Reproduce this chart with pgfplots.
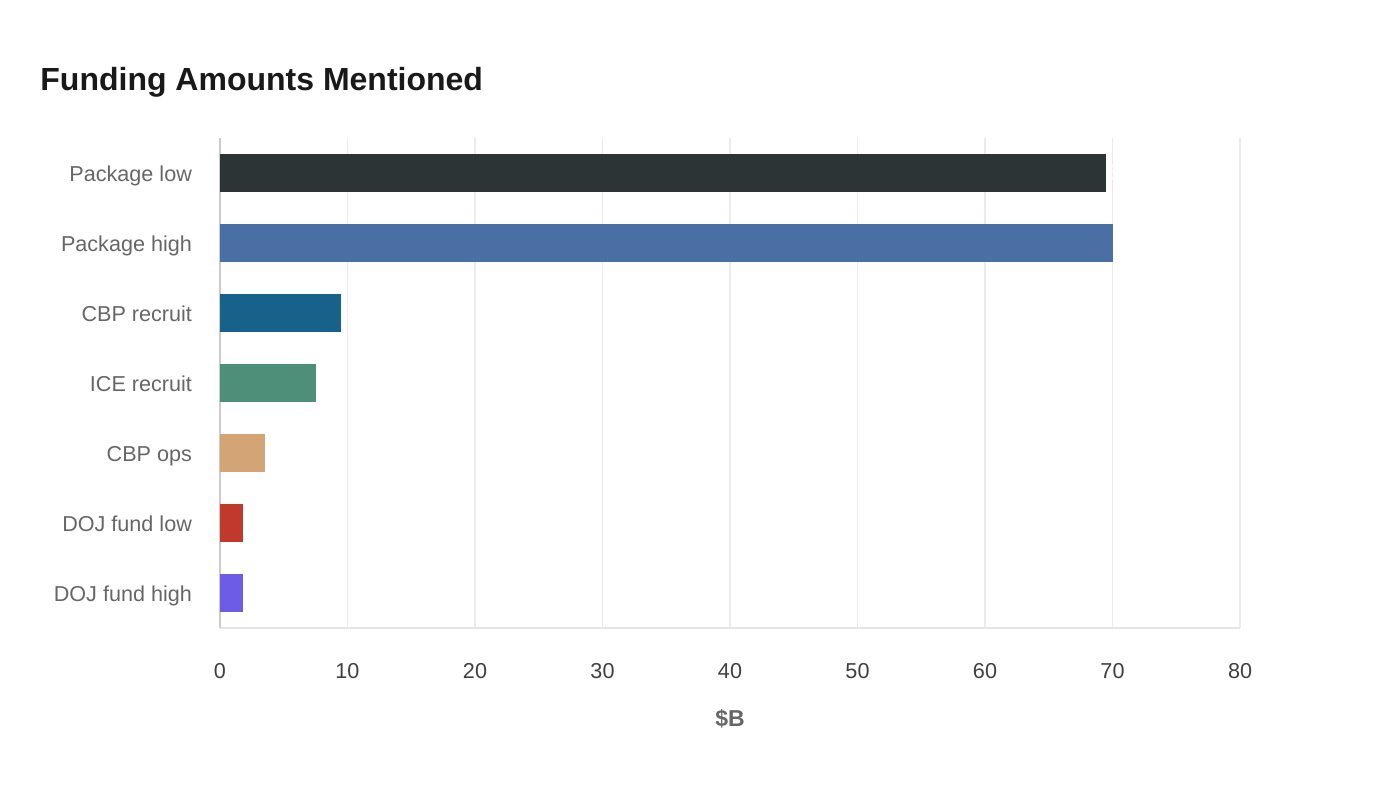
\documentclass[border=0pt]{standalone}
\usepackage{pgfplots}
\pgfplotsset{compat=1.18}
\usepackage{fontspec}
\setmainfont{Liberation Sans}
\definecolor{c1}{HTML}{2D3436}
\definecolor{c2}{HTML}{4A6FA5}
\definecolor{c3}{HTML}{17628A}
\definecolor{c4}{HTML}{4E8F7A}
\definecolor{c5}{HTML}{D4A574}
\definecolor{c6}{HTML}{C0392B}
\definecolor{c7}{HTML}{6C5CE7}
\definecolor{gridc}{HTML}{EBEBEB}
\definecolor{axc}{HTML}{CCCCCC}
\begin{document}
\begin{tikzpicture}
\begin{axis}[
  scale only axis,
  width=510pt, height=245pt,
  xbar, bar width=19pt, bar shift=0pt,
  xmin=0, xmax=80,
  ymin=-0.5, ymax=6.5,
  y dir=reverse,
  ytick={0,...,6},
  yticklabels={Package low,Package high,CBP recruit,ICE recruit,CBP ops,DOJ fund low,DOJ fund high},
  xtick={0,10,...,80},
  axis x line*=bottom, axis y line*=left,
  axis line style={axc, line width=0.8pt, -},
  x axis line style={draw=gridc!80!axc},
  major tick length=0pt,
  xmajorgrids, grid style={gridc, line width=0.7pt},
  /pgf/number format/assume math mode=true,
  tick label style={font=\fontsize{10.8}{13}\selectfont},
  xticklabel style={text=black!75, yshift=-14pt},
  yticklabel style={text=black!60, xshift=-10.5pt, anchor=east, text height=0.72em, text depth=0.2em, yshift=-1.5pt},
  xlabel={\textbf{\$B}},
  xlabel style={font=\fontsize{11.5}{13}\selectfont, text=black!60, yshift=-8.5pt},
  nodes near coords,
  nodes near coords style={white, font=\bfseries\fontsize{10}{12}\selectfont, anchor=west, xshift=-3pt},
  clip=false,
]
\addplot[fill=c1, draw=none] coordinates {(69.5,0)};
\addplot[fill=c2, draw=none] coordinates {(70,1)};
\addplot[fill=c3, draw=none] coordinates {(9.5,2)};
\addplot[fill=c4, draw=none] coordinates {(7.5,3)};
\addplot[fill=c5, draw=none] coordinates {(3.5,4)};
\addplot[fill=c6, draw=none] coordinates {(1.8,5)};
\addplot[fill=c7, draw=none] coordinates {(1.8,6)};
\end{axis}
\node[anchor=base west, inner sep=0pt, font=\bfseries\fontsize{16}{19}\selectfont, text=black!90] at ([shift={(-90pt,268.6pt)}]current axis.south west) {Funding Amounts Mentioned};
\path ([shift={(-110pt,-86pt)}]current axis.south west) rectangle ++(700pt,400pt);
\end{tikzpicture}
\end{document}
